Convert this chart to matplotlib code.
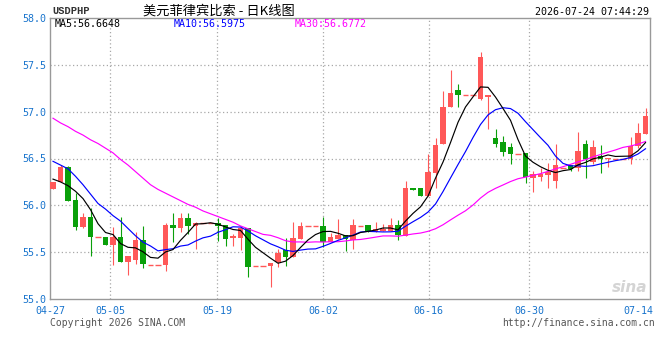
import matplotlib
matplotlib.use("Agg")
import matplotlib.pyplot as plt
import numpy as np
import pandas as pd

# ---------------- data ----------------
opens = [56.17, 56.25, 56.41, 56.06, 55.77, 55.88, 55.66, 55.66, 55.58, 55.66,
         55.40, 55.42, 55.63, 55.36, 55.36, 55.36, 55.79, 55.76, 55.86, 55.78,
         55.81, 55.81, 55.81, 55.79, 55.65, 55.65, 55.76, 55.35, 55.35, 55.35,
         55.39, 55.52, 55.45, 55.64, 55.78, 55.78, 55.78, 55.61, 55.64, 55.68,
         55.63, 55.78, 55.79, 55.72, 55.73, 55.73, 55.79, 55.67, 56.19, 56.19,
         56.10, 56.35, 56.66, 57.05, 57.23, 57.18, 57.18, 57.14, 57.16, 56.72,
         56.68, 56.62, 56.55, 56.56, 56.29, 56.30, 56.32, 56.26, 56.40, 56.43,
         56.40, 56.65, 56.46, 56.53, 56.49, 56.50, 56.50, 56.49, 56.63, 56.76]
highs = [56.25, 56.43, 56.42, 56.13, 55.92, 55.97, 55.66, 55.66, 55.77, 55.88,
         55.46, 55.71, 55.78, 55.36, 55.36, 55.81, 55.92, 55.92, 55.92, 55.82,
         55.81, 55.81, 55.87, 55.79, 55.69, 55.76, 55.76, 55.35, 55.35, 55.38,
         55.53, 55.65, 55.82, 55.82, 55.78, 55.78, 55.88, 55.70, 55.85, 55.68,
         55.85, 55.78, 55.79, 55.82, 55.80, 55.86, 55.84, 56.26, 56.19, 56.19,
         56.55, 56.72, 57.22, 57.44, 57.30, 57.18, 57.18, 57.64, 57.18, 56.81,
         56.74, 56.67, 56.55, 56.56, 56.37, 56.40, 56.45, 56.65, 56.40, 56.43,
         56.78, 56.70, 56.70, 56.64, 56.51, 56.50, 56.50, 56.73, 56.88, 57.04]
lows = [56.17, 56.25, 56.05, 55.74, 55.76, 55.46, 55.66, 55.58, 55.36, 55.40,
        55.26, 55.37, 55.33, 55.36, 55.36, 55.30, 55.61, 55.72, 55.69, 55.53,
        55.81, 55.81, 55.62, 55.57, 55.57, 55.52, 55.23, 55.35, 55.35, 55.13,
        55.34, 55.35, 55.45, 55.64, 55.78, 55.78, 55.56, 55.61, 55.64, 55.51,
        55.53, 55.78, 55.72, 55.72, 55.73, 55.73, 55.63, 55.67, 56.16, 56.10,
        56.10, 56.19, 56.66, 57.05, 57.05, 57.18, 57.18, 57.12, 56.81, 56.62,
        56.53, 56.44, 56.55, 56.24, 56.14, 56.26, 56.19, 56.19, 56.40, 56.37,
        56.37, 56.29, 56.44, 56.35, 56.41, 56.50, 56.50, 56.44, 56.61, 56.76]
closes = [56.25, 56.41, 56.05, 55.77, 55.88, 55.66, 55.66, 55.58, 55.66, 55.40,
          55.46, 55.63, 55.37, 55.36, 55.36, 55.79, 55.76, 55.86, 55.78, 55.81,
          55.81, 55.81, 55.78, 55.64, 55.67, 55.76, 55.34, 55.35, 55.35, 55.38,
          55.49, 55.45, 55.65, 55.78, 55.78, 55.78, 55.61, 55.66, 55.68, 55.64,
          55.79, 55.78, 55.72, 55.75, 55.75, 55.79, 55.68, 56.19, 56.16, 56.10,
          56.36, 56.64, 57.05, 57.20, 57.18, 57.18, 57.18, 57.58, 57.18, 56.66,
          56.57, 56.55, 56.55, 56.30, 56.33, 56.33, 56.36, 56.43, 56.40, 56.39,
          56.58, 56.49, 56.62, 56.49, 56.51, 56.50, 56.50, 56.63, 56.77, 56.95]

# moving-average values at the start of the window (earlier data not shown)
ma5_head = [56.28, 56.25, 56.21, 56.15]
ma10_head = [56.47, 56.43, 56.39, 56.31, 56.22, 56.12, 56.02, 55.96, 55.89]
ma30_head = [56.93, 56.88, 56.84, 56.79, 56.75, 56.70, 56.66, 56.61, 56.56, 56.49,
             56.43, 56.36, 56.29, 56.22, 56.17, 56.13, 56.09, 56.05, 56.01, 55.98,
             55.94, 55.91, 55.88, 55.85, 55.82, 55.78, 55.75, 55.72, 55.69]

# legend values as printed on the reference
ma_labels = ["MA5:56.6648", "MA10:56.5975", "MA30:56.6772"]

tick_labels = ["04-27", "05-05", "05-19", "06-02", "06-16", "06-30", "07-14"]
tick_pos = [-0.4, 7.6, 21.9, 36.0, 50.1, 63.5, 78.0]
grid_pos = tick_pos[1:-1]
y_ticks = [55.0, 55.5, 56.0, 56.5, 57.0, 57.5, 58.0]

title = "美元菲律宾比索 - 日K线图"
symbol = "USDPHP"
stamp = "2026-07-24 07:44:29"

# ---------------- figure ----------------
W, H = 660, 360
fig = plt.figure(figsize=(W / 100, H / 100), dpi=100)
fig.patch.set_facecolor("white")
ax = fig.add_axes([50 / W, (H - 299) / H, 600 / W, 281 / H])

n = len(closes)
x = np.arange(n)
o = np.array(opens); c = np.array(closes)
h = np.array(highs); l = np.array(lows)

RED = "#FF5858"
GREEN = "#0AA00A"
up = c >= o
colors = np.where(up, RED, GREEN)
bw = 0.78

# wicks
ax.vlines(x, l, h, colors=colors, linewidth=0.8, zorder=2)
# bodies
bottoms = np.minimum(o, c)
heights = np.abs(c - o)
flat = heights < 0.005
ax.bar(x[~flat], heights[~flat], bottom=bottoms[~flat], width=bw,
       color=colors[~flat], linewidth=0, zorder=3)
ax.hlines(c[flat], x[flat] - bw / 2, x[flat] + bw / 2, colors=colors[flat],
          linewidth=1.0, zorder=3)

# moving averages
s = pd.Series(closes)
ma5 = s.rolling(5).mean().to_numpy()
ma10 = s.rolling(10).mean().to_numpy()
ma30 = s.rolling(30).mean().to_numpy()
ma5[:len(ma5_head)] = ma5_head
ma10[:len(ma10_head)] = ma10_head
ma30[:len(ma30_head)] = ma30_head
ax.plot(x, ma30, color="#FF00FF", linewidth=0.85, zorder=4)
ax.plot(x, ma10, color="#0000FF", linewidth=0.85, zorder=4)
ax.plot(x, ma5, color="#000000", linewidth=0.85, zorder=4)

# axes
ax.set_xlim(-0.4, 79.6)
ax.set_ylim(55.0, 58.0)
GRID = "#A8A8A8"
for yv in y_ticks[1:-1]:
    ax.axhline(yv, color=GRID, linewidth=0.9, linestyle=(0, (1, 2)), zorder=1)
for xv in grid_pos:
    ax.axvline(xv, color=GRID, linewidth=0.9, linestyle=(0, (1, 2)), zorder=1)

for side in ["left", "top"]:
    ax.spines[side].set_color("#999999")
    ax.spines[side].set_linewidth(1.0)
for side in ["right", "bottom"]:
    ax.spines[side].set_color("#999999")
    ax.spines[side].set_linewidth(1.0)
    ax.spines[side].set_linestyle((0, (1, 1)))

mono = "DejaVu Sans Mono"
ax.set_yticks(y_ticks)
ax.set_yticklabels([f"{v:.1f}" for v in y_ticks])
ax.set_xticks(tick_pos)
ax.set_xticklabels(tick_labels)
ax.tick_params(axis="y", length=0, colors="#1874CD", labelsize=7.2, pad=3)
ax.tick_params(axis="x", length=0, colors="#1874CD", labelsize=7.2, pad=5)
for t in ax.get_xticklabels() + ax.get_yticklabels():
    t.set_family(mono)

# MA legend texts
ma_colors = ["#000000", "#0000FF", "#FF00FF"]
ma_x = [55, 174, 295]
for lab, col, px in zip(ma_labels, ma_colors, ma_x):
    fig.text(px / W, 1 - 24 / H, lab, color=col, family=mono, fontsize=7.2,
             va="center", ha="left")

# header
fig.text(52 / W, 1 - 11 / H, symbol, color="#333333", family="Liberation Mono",
         fontsize=7.5, fontweight="bold", va="center", ha="left")
fig.text(219 / W, 1 - 11 / H, title, color="#000000",
         family=["Noto Sans CJK SC", "DejaVu Sans"], fontsize=9.5, va="center", ha="center")
fig.text(649 / W, 1 - 12 / H, stamp, color="#000000", family=mono,
         fontsize=7.2, va="center", ha="right")

# footer
fig.text(50 / W, 1 - 323 / H, "Copyright 2026 SINA.COM", color="#555555",
         family=mono, fontsize=7, va="center", ha="left")
fig.text(655 / W, 1 - 323 / H, "http://finance.sina.com.cn", color="#555555",
         family=mono, fontsize=7, va="center", ha="right")

# watermark
ax.text(0.995, 0.015, "sina", transform=ax.transAxes, color="#D4D4D4",
        fontsize=11, fontweight="bold", style="italic", ha="right", va="bottom",
        zorder=0)

fig.savefig("out.png", dpi=100, facecolor="white")
